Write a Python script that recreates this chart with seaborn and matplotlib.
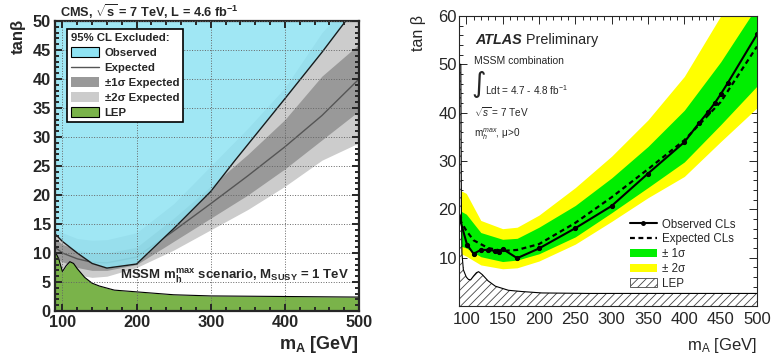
import numpy as np
import pandas as pd
import matplotlib
matplotlib.use("Agg")
import matplotlib.pyplot as plt
import seaborn as sns
from matplotlib.patches import Patch
from matplotlib.lines import Line2D
from matplotlib.ticker import MultipleLocator

# ---------------- CMS (left) data ----------------
cms_obs_m = [90, 100, 120, 140, 160, 200, 250, 300, 333, 400, 450, 482]
cms_obs_tb = [13.3, 12.0, 10.0, 8.2, 7.4, 8.1, 14.2, 20.6, 26.0, 36.6, 44.6, 50.0]
cms_band_m = [90, 100, 120, 140, 160, 200, 250, 300, 350, 400, 450, 500]
cms_exp = [11.0, 10.0, 9.0, 8.4, 8.3, 9.3, 13.8, 18.5, 23.3, 28.3, 33.7, 40.0]
cms_1s_hi = [12.5, 11.5, 10.5, 10.0, 10.0, 11.0, 16.0, 21.5, 27.0, 33.0, 40.5, 46.0]
cms_1s_lo = [9.0, 8.5, 7.5, 7.0, 7.0, 8.0, 12.0, 16.0, 20.0, 24.5, 29.5, 34.5]
cms_2s_hi = [14.5, 13.5, 12.5, 12.2, 12.3, 13.5, 18.5, 25.0, 31.5, 38.5, 48.0, 55.0]
cms_2s_lo = [7.5, 7.0, 6.2, 5.8, 6.0, 7.5, 10.5, 14.0, 17.5, 21.5, 26.0, 29.0]
cms_lep_m = [90, 95, 100, 105, 110, 115, 120, 130, 140, 150, 170, 200, 250, 300, 400, 500]
cms_lep_tb = [10.3, 9.0, 6.8, 7.8, 8.5, 8.2, 7.3, 5.8, 4.8, 4.3, 3.6, 3.3, 2.8, 2.6, 2.5, 2.4]
cms_xticks = [100, 200, 300, 400, 500]
cms_yticks = [0, 5, 10, 15, 20, 25, 30, 35, 40, 45, 50]

# ---------------- ATLAS (right) data ----------------
atl_obs_m = [90.5, 101, 110, 120, 130, 140, 145, 150, 170, 200, 250, 300, 350, 400,
             420, 433, 442, 450, 460, 500]
atl_obs_tb = [18.4, 12.7, 10.8, 11.6, 11.6, 11.4, 11.2, 11.8, 9.9, 11.9, 16.1, 20.7,
              27.4, 33.9, 37.8, 40.2, 42.0, 43.8, 46.2, 56.2]
atl_exp_m = [90.5, 100, 110, 130, 150, 170, 200, 250, 300, 350, 400, 450, 500]
atl_exp_tb = [18.0, 15.6, 13.6, 12.0, 11.4, 11.6, 12.8, 17.2, 22.5, 28.3, 34.3, 42.2, 53.7]
atl_band_m = [90.5, 100, 120, 150, 170, 200, 250, 300, 350, 400, 450, 500]
atl_2s_hi = [24.0, 23.3, 17.7, 16.0, 16.3, 18.8, 24.5, 31.0, 38.5, 47.5, 60.0, 72.0]
atl_1s_hi = [19.8, 19.0, 15.2, 13.8, 14.0, 16.3, 20.8, 26.5, 33.0, 40.5, 50.5, 62.0]
atl_1s_lo = [12.5, 12.0, 10.2, 9.2, 9.5, 10.8, 14.3, 19.3, 24.5, 29.8, 37.5, 45.5]
atl_2s_lo = [11.0, 10.3, 8.5, 7.7, 7.9, 9.3, 12.8, 17.5, 22.4, 26.8, 34.0, 41.0]
atl_lep_m = [90.5, 92.5, 93.3, 94, 96, 100, 103, 106, 110, 114, 117, 122, 130, 140,
             158, 176, 204, 268, 350, 500]
atl_lep_tb = [50, 50, 20, 11, 7.5, 6.0, 5.5, 5.4, 6.2, 6.9, 7.1, 6.5, 5.2, 4.1,
              3.25, 3.0, 2.7, 2.6, 2.6, 2.6]
atl_xticks = [100, 150, 200, 250, 300, 350, 400, 450, 500]
atl_yticks = [10, 20, 30, 40, 50, 60]

sns.set_style("ticks")
plt.rcParams['font.family'] = ['Liberation Sans', 'DejaVu Sans']
plt.rcParams['mathtext.fontset'] = 'custom'
plt.rcParams['mathtext.rm'] = 'Liberation Sans'
plt.rcParams['mathtext.it'] = 'Liberation Sans:italic'
plt.rcParams['mathtext.bf'] = 'Liberation Sans:bold'
plt.rcParams['hatch.linewidth'] = 0.6

W, H = 775, 362
fig = plt.figure(figsize=(W / 100, H / 100), dpi=100)

# ================= CMS panel =================
ax1 = fig.add_axes([55 / W, 1 - 311 / H, 304 / W, 290 / H])
ax1.set_facecolor('white')
ax1.fill_between(cms_band_m, cms_2s_lo, cms_2s_hi, color='#cccccc', lw=0, zorder=1.0)
ax1.fill_between(cms_band_m, cms_1s_lo, cms_1s_hi, color='#999999', lw=0, zorder=1.05)
sns.lineplot(x=cms_band_m, y=cms_exp, color='#555555', lw=1.0, ax=ax1, zorder=1.1)
ax1.fill_between(cms_obs_m, cms_obs_tb, 50, color='#8fe3f3', alpha=0.85, lw=0, zorder=1.2)
sns.lineplot(x=cms_obs_m, y=cms_obs_tb, color='#1a1a1a', lw=1.0, ax=ax1, zorder=1.3)
ax1.fill_between(cms_lep_m, 0, cms_lep_tb, color='#7ab34a', lw=0, zorder=1.4)
sns.lineplot(x=cms_lep_m, y=cms_lep_tb, color='black', lw=0.8, ax=ax1, zorder=1.5)

ax1.set_xlim(90, 500)
ax1.set_ylim(0, 50)
ax1.set_xticks(cms_xticks)
ax1.set_xticklabels([str(v) for v in cms_xticks], fontweight='bold', fontsize=11.8)
ax1.set_yticks(cms_yticks)
ax1.set_yticklabels([str(v) for v in cms_yticks], fontweight='bold', fontsize=11.8)
ax1.xaxis.set_minor_locator(MultipleLocator(20))
ax1.yaxis.set_minor_locator(MultipleLocator(1))
ax1.tick_params(which='both', direction='in', top=True, right=True, width=1.4)
ax1.tick_params(which='major', length=5, pad=3)
ax1.tick_params(which='minor', length=2.6)
ax1.set_axisbelow(False)
ax1.grid(True, which='major', ls=':', color='#666666', lw=0.7)
for s in ax1.spines.values():
    s.set_linewidth(1.6)
ax1.set_xlabel('')
ax1.set_ylabel('')

leg1_handles = [
    Patch(facecolor='#8fe3f3', edgecolor='black', lw=0.8, label='Observed'),
    Line2D([], [], color='#555555', lw=1.0, label='Expected'),
    Patch(facecolor='#999999', edgecolor='none', label='±1σ Expected'),
    Patch(facecolor='#cccccc', edgecolor='none', label='±2σ Expected'),
    Patch(facecolor='#7ab34a', edgecolor='black', lw=0.8, label='LEP'),
]
leg1 = ax1.legend(handles=leg1_handles, loc='upper left',
                  bbox_to_anchor=((67 - 55) / 304, (311 - 29) / 290),
                  borderaxespad=0, title='95% CL Excluded:', alignment='left',
                  prop={'weight': 'bold', 'size': 8.2},
                  title_fontproperties={'weight': 'bold', 'size': 8.2},
                  handlelength=2.5, handleheight=0.9, handletextpad=0.45,
                  labelspacing=0.38, borderpad=0.35, fancybox=False, framealpha=1)
leg1.get_frame().set_edgecolor('black')
leg1.get_frame().set_linewidth(1.2)
leg1.set_zorder(5)

ax1.text((349 - 55) / 304, (311 - 279) / 290,
         r'MSSM $\mathbf{m_h^{max}}$ scenario, $\mathbf{M_{SUSY}}$ = 1 TeV',
         transform=ax1.transAxes, ha='right', va='baseline',
         fontsize=9.5, fontweight='bold', zorder=6)

fig.text(60 / W, 1 - 12 / H,
         r'CMS, $\mathbf{\sqrt{s}}$ = 7 TeV, L = 4.6 fb$^{\mathbf{-1}}$',
         ha='left', va='center', fontsize=9.2, fontweight='bold')
fig.text(18 / W, 1 - 19 / H, 'tanβ', rotation=90, ha='center', va='top',
         fontsize=12, fontweight='bold')
fig.text(359 / W, 1 - 349 / H, r'$\mathbf{m_A}$ [GeV]', ha='right', va='baseline',
         fontsize=13, fontweight='bold')

# ================= ATLAS panel =================
ax2 = fig.add_axes([459 / W, 1 - 306 / H, 298 / W, 290 / H])
ax2.set_facecolor('white')
ax2.fill_between(atl_band_m, atl_2s_lo, atl_2s_hi, color='#ffff00', lw=0, zorder=1.0)
ax2.fill_between(atl_band_m, atl_1s_lo, atl_1s_hi, color='#00ee00', lw=0, zorder=1.1)
ax2.fill_between(atl_lep_m, 0, atl_lep_tb, facecolor='white', edgecolor='#444444',
                 hatch='////', lw=0, zorder=1.2)
sns.lineplot(x=atl_lep_m, y=atl_lep_tb, color='black', lw=0.8, ax=ax2, zorder=1.3)
sns.lineplot(x=atl_exp_m, y=atl_exp_tb, color='black', lw=1.6, ls=(0, (2.2, 1.6)),
             ax=ax2, zorder=1.4)
sns.lineplot(x=atl_obs_m, y=atl_obs_tb, color='black', lw=1.5, marker='o', ms=3,
             mec='black', ax=ax2, zorder=1.5)

ax2.set_xlim(90, 500)
ax2.set_ylim(0, 60)
ax2.set_xticks(atl_xticks)
ax2.set_xticklabels([str(v) for v in atl_xticks], fontsize=12)
ax2.set_yticks(atl_yticks)
ax2.set_yticklabels([str(v) for v in atl_yticks], fontsize=12)
ax2.xaxis.set_minor_locator(MultipleLocator(10))
ax2.yaxis.set_minor_locator(MultipleLocator(2))
ax2.tick_params(which='both', direction='in', top=True, right=True, width=0.7)
ax2.tick_params(which='major', length=6, pad=4)
ax2.tick_params(axis='y', which='major', pad=1.5)
ax2.tick_params(which='minor', length=3)
for s in ax2.spines.values():
    s.set_linewidth(0.8)
ax2.set_xlabel('')
ax2.set_ylabel('')

leg2_handles = [
    Line2D([], [], color='black', lw=1.5, marker='o', ms=2.5, label='Observed CLs'),
    Line2D([], [], color='black', lw=1.6, ls=(0, (2.2, 1.6)), label='Expected CLs'),
    Patch(facecolor='#00ee00', edgecolor='none', label='± 1σ'),
    Patch(facecolor='#ffff00', edgecolor='none', label='± 2σ'),
    Patch(facecolor='white', edgecolor='#444444', hatch='////', lw=0.6, label='LEP'),
]
leg2 = ax2.legend(handles=leg2_handles, loc='upper left',
                  bbox_to_anchor=((630 - 459) / 298, (306 - 218.5) / 290),
                  borderaxespad=0, borderpad=0, frameon=False,
                  prop={'size': 8.3}, handlelength=2.3, handletextpad=0.5,
                  labelspacing=0.24)

tA = ax2.text((475 - 459) / 298, (306 - 44) / 290, 'ATLAS', transform=ax2.transAxes,
              ha='left', va='baseline', fontsize=10.4, fontweight='bold', style='italic')
ax2.annotate(' Preliminary', xy=(1, 0), xycoords=tA, ha='left', va='bottom',
             fontsize=10.4)
ax2.text((474 - 459) / 298, (306 - 64) / 290, 'MSSM combination',
         transform=ax2.transAxes, ha='left', va='baseline', fontsize=7.5)
ax2.text((471 - 459) / 298, (306 - 84) / 290, '∫', transform=ax2.transAxes,
         ha='left', va='center', fontsize=20, family='DejaVu Sans')
ax2.text((485 - 459) / 298, (306 - 95) / 290, r'Ldt = 4.7 - 4.8 fb$^{-1}$',
         transform=ax2.transAxes, ha='left', va='baseline', fontsize=7.2)
ax2.text((474 - 459) / 298, (306 - 117) / 290, r'$\sqrt{s}$ = 7 TeV',
         transform=ax2.transAxes, ha='left', va='baseline', fontsize=7.2)
ax2.text((474 - 459) / 298, (306 - 137) / 290, r'm$_h^{max}$, μ>0',
         transform=ax2.transAxes, ha='left', va='baseline', fontsize=7.2)

fig.text(419 / W, 1 - 15 / H, 'tan β', rotation=90, ha='center', va='top',
         fontsize=11.5)
fig.text(757 / W, 1 - 350 / H, r'm$_\mathrm{A}$ [GeV]', ha='right', va='baseline',
         fontsize=12)

fig.savefig('out.png', dpi=100)
